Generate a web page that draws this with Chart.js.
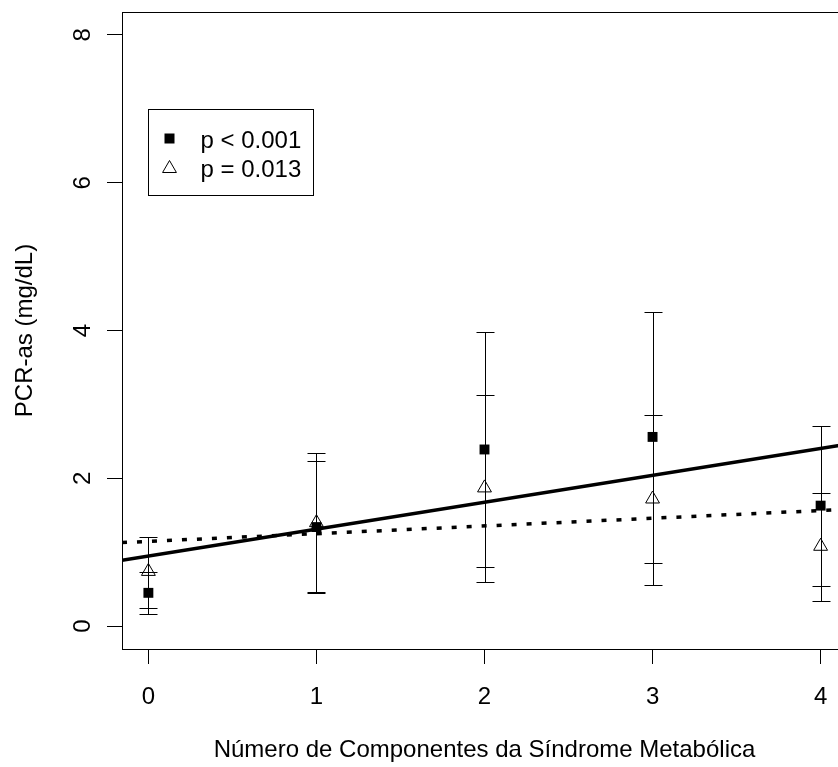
<!DOCTYPE html>
<html>
<head>
<meta charset="utf-8">
<script src="https://cdn.jsdelivr.net/npm/chart.js@4.4.1/dist/chart.umd.min.js"></script>
<style>
  html, body { margin: 0; padding: 0; background: #fff; overflow: hidden; }
  #wrap { width: 860px; height: 767px; }
</style>
</head>
<body>
<div id="wrap"><canvas id="chart" width="860" height="767"></canvas></div>
<script>
const FONT = "'Liberation Sans', Arial, sans-serif";

const xTicks = [0, 1, 2, 3, 4];
const yTicks = [0, 2, 4, 6, 8];
const components = [0, 1, 2, 3, 4];

// filled squares (p < 0.001)
const squareMean = [0.45, 1.34, 2.39, 2.56, 1.63];
const squareLow = [0.16, 0.45, 0.80, 0.85, 0.54];
const squareHigh = [0.73, 2.23, 3.98, 4.25, 2.71];

// open triangles (p = 0.013)
const triMean = [0.74, 1.40, 1.87, 1.72, 1.08];
const triLow = [0.24, 0.46, 0.59, 0.56, 0.34];
const triHigh = [1.20, 2.34, 3.13, 2.86, 1.80];

// fitted lines, read where they meet the plot edges
const lineX = [-0.157, 4.157];
const solidFit = [0.89, 2.46];
const dottedFit = [1.13, 1.58];

const legendLabels = ['p < 0.001', 'p = 0.013'];

const toPoints = (xs, ys) => xs.map((v, i) => ({ x: v, y: ys[i] }));

function drawTriangle(ctx, x, y, r) {
  ctx.beginPath();
  for (let k = 0; k < 3; k++) {
    const a = k * 2 * Math.PI / 3;
    const px = x + Math.sin(a) * r, py = y - Math.cos(a) * r;
    if (k === 0) ctx.moveTo(px, py); else ctx.lineTo(px, py);
  }
  ctx.closePath();
  ctx.stroke();
}

// error bars under the points
const errorBars = {
  id: 'errorBars',
  beforeDatasetsDraw(chart) {
    const { ctx, scales: { x, y } } = chart;
    ctx.save();
    ctx.strokeStyle = '#000';
    ctx.lineWidth = 1;
    [[squareLow, squareHigh], [triLow, triHigh]].forEach(([lo, hi]) => {
      components.forEach((c, i) => {
        const px = Math.round(x.getPixelForValue(c)) + 0.5;
        const y1 = Math.round(y.getPixelForValue(lo[i])) + 0.5;
        const y2 = Math.round(y.getPixelForValue(hi[i])) + 0.5;
        ctx.beginPath();
        ctx.moveTo(px, y1); ctx.lineTo(px, y2);
        ctx.moveTo(px - 9, y1); ctx.lineTo(px + 9, y1);
        ctx.moveTo(px - 9, y2); ctx.lineTo(px + 9, y2);
        ctx.stroke();
      });
    });
    ctx.restore();
  }
};

// box around the plot and the legend
const frame = {
  id: 'frame',
  afterDraw(chart) {
    const { ctx, chartArea: a, scales: { x, y } } = chart;
    ctx.save();
    ctx.strokeStyle = '#000';
    ctx.lineWidth = 1;
    ctx.strokeRect(Math.round(a.left) + 0.5, Math.round(a.top) + 0.5,
      Math.round(a.right - a.left), Math.round(a.bottom - a.top));

    const lx = Math.round(x.getPixelForValue(0)) + 0.5;
    const ly = Math.round(y.getPixelForValue(7)) + 0.5;
    ctx.fillStyle = '#fff';
    ctx.fillRect(lx, ly, 165, 86);
    ctx.strokeRect(lx, ly, 165, 86);

    ctx.fillStyle = '#000';
    ctx.fillRect(lx + 16, ly + 24, 10, 10);
    drawTriangle(ctx, lx + 21, ly + 59, 8);

    ctx.font = '24px ' + FONT;
    ctx.textBaseline = 'alphabetic';
    ctx.textAlign = 'left';
    ctx.fillText(legendLabels[0], lx + 52, ly + 38);
    ctx.fillText(legendLabels[1], lx + 52, ly + 67);
    ctx.restore();
  }
};

new Chart(document.getElementById('chart'), {
  type: 'scatter',
  data: {
    datasets: [
      {
        data: toPoints(lineX, solidFit),
        showLine: true, borderColor: '#000', borderWidth: 3.5,
        pointRadius: 0
      },
      {
        data: toPoints(lineX, dottedFit),
        showLine: true, borderColor: '#000', borderWidth: 3.5,
        borderDash: [5, 10], pointRadius: 0
      },
      {
        data: toPoints(components, squareMean),
        pointStyle: 'rect', pointRadius: 7, pointBorderWidth: 0,
        backgroundColor: '#000', borderColor: '#000'
      },
      {
        data: toPoints(components, triMean),
        pointStyle: 'triangle', pointRadius: 8, pointBorderWidth: 1,
        backgroundColor: 'rgba(0,0,0,0)', borderColor: '#000'
      }
    ]
  },
  options: {
    responsive: false,
    animation: false,
    devicePixelRatio: 1,
    layout: { padding: { top: 12, right: 13, left: 0, bottom: 0 } },
    plugins: { legend: { display: false }, tooltip: { enabled: false } },
    scales: {
      x: {
        type: 'linear', min: -0.157, max: 4.157,
        afterBuildTicks: s => { s.ticks = xTicks.map(v => ({ value: v })); },
        afterFit: s => { s.height = 118; s.paddingLeft = 0; s.paddingRight = 0; },
        ticks: { minRotation: 0, maxRotation: 0, padding: 19, color: '#000', font: { family: FONT, size: 24 } },
        grid: { drawOnChartArea: false, tickLength: 15, color: '#000', tickColor: '#000' },
        border: { display: true, color: '#000', width: 1 },
        title: {
          display: true, text: 'Número de Componentes da Síndrome Metabólica',
          color: '#000', font: { family: FONT, size: 24 }, padding: { top: 0, bottom: 2 }
        }
      },
      y: {
        type: 'linear', min: -0.31, max: 8.31,
        afterBuildTicks: s => { s.ticks = yTicks.map(v => ({ value: v })); },
        afterFit: s => { s.width = 122; s.paddingTop = 0; s.paddingBottom = 0; },
        ticks: { minRotation: 90, maxRotation: 90, crossAlign: 'center', padding: 17, color: '#000', font: { family: FONT, size: 24 } },
        grid: { drawOnChartArea: false, tickLength: 15, color: '#000', tickColor: '#000' },
        border: { display: true, color: '#000', width: 1 },
        title: {
          display: true, text: 'PCR-as (mg/dL)',
          color: '#000', font: { family: FONT, size: 24 }, padding: { top: 10.6, bottom: 0 }
        }
      }
    }
  },
  plugins: [errorBars, frame]
});
</script>
</body>
</html>
